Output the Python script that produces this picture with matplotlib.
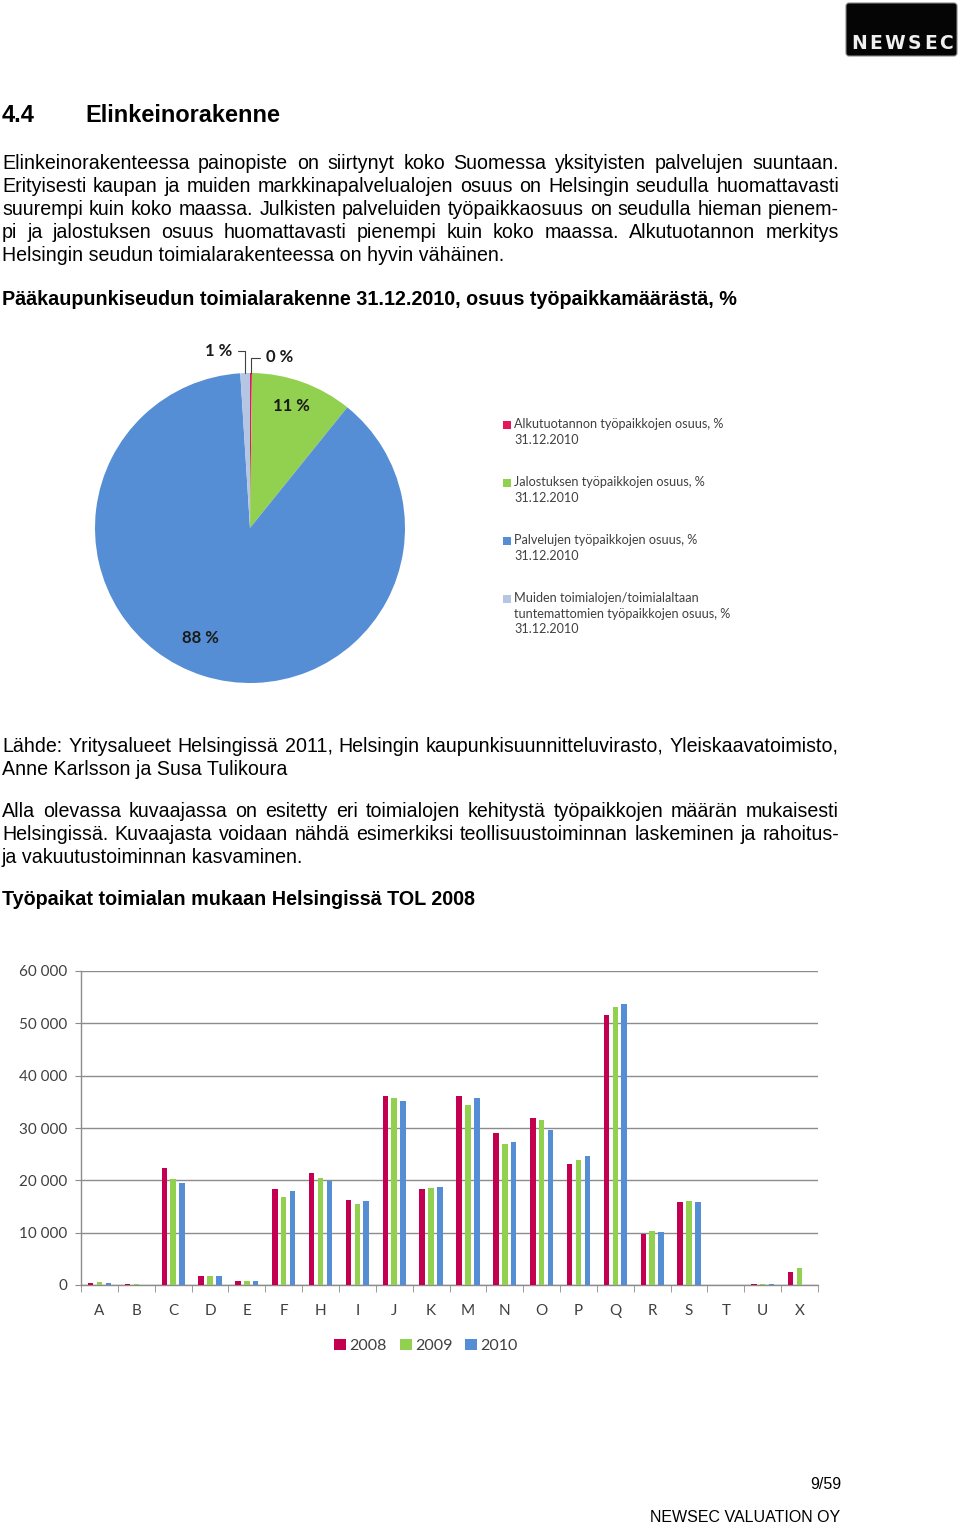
import matplotlib
matplotlib.use("Agg")
import matplotlib.pyplot as plt
from matplotlib.patches import Rectangle, FancyBboxPatch
import numpy as np

plt.rcParams['font.family'] = ['Lato', 'DejaVu Sans']

# ---------------- data ----------------
categories = ['A', 'B', 'C', 'D', 'E', 'F', 'H', 'I', 'J', 'K',
              'M', 'N', 'O', 'P', 'Q', 'R', 'S', 'T', 'U', 'X']
years = ['2008', '2009', '2010']
jobs_2008 = [400, 200, 22400, 1700, 750, 18300, 21400, 16200, 36100, 18300,
             36200, 29000, 31900, 23100, 51500, 9800, 15800, 50, 130, 2400]
jobs_2009 = [500, 100, 20200, 1700, 850, 16900, 20400, 15500, 35700, 18500,
             34300, 26900, 31600, 23800, 53100, 10300, 16000, 50, 250, 3200]
jobs_2010 = [400, 50, 19400, 1650, 750, 18000, 19900, 16000, 35200, 18800,
             35700, 27300, 29600, 24700, 53600, 10100, 15800, 50, 130, 0]
y_ticks = [0, 10000, 20000, 30000, 40000, 50000, 60000]

pie_legend = ["Alkutuotannon työpaikkojen osuus, %\n31.12.2010",
              "Jalostuksen työpaikkojen osuus, %\n31.12.2010",
              "Palvelujen työpaikkojen osuus, %\n31.12.2010",
              "Muiden toimialojen/toimialaltaan\ntuntemattomien työpaikkojen osuus, %\n31.12.2010"]
pie_shares = [0.2, 10.6, 88.2, 1.0]
pie_texts = ["0 %", "11 %", "88 %", "1 %"]

para1 = ["Elinkeinorakenteessa painopiste on siirtynyt koko Suomessa yksityisten palvelujen suuntaan.",
         "Erityisesti kaupan ja muiden markkinapalvelualojen osuus on Helsingin seudulla huomattavasti",
         "suurempi kuin koko maassa. Julkisten palveluiden työpaikkaosuus on seudulla hieman pienem-",
         "pi ja jalostuksen osuus huomattavasti pienempi kuin koko maassa. Alkutuotannon merkitys",
         "Helsingin seudun toimialarakenteessa on hyvin vähäinen."]
pie_title = "Pääkaupunkiseudun toimialarakenne 31.12.2010, osuus työpaikkamäärästä, %"
source = ["Lähde: Yritysalueet Helsingissä 2011, Helsingin kaupunkisuunnitteluvirasto, Yleiskaavatoimisto,",
          "Anne Karlsson ja Susa Tulikoura"]
para2 = ["Alla olevassa kuvaajassa on esitetty eri toimialojen kehitystä työpaikkojen määrän mukaisesti",
         "Helsingissä. Kuvaajasta voidaan nähdä esimerkiksi teollisuustoiminnan laskeminen ja rahoitus-",
         "ja vakuutustoiminnan kasvaminen."]
bar_title = "Työpaikat toimialan mukaan Helsingissä TOL 2008"
logo = "NEWSEC"

# ---------------- styling ----------------
pie_colors = ['#e2175e', '#92d050', '#558ed5', '#b4c6e4']
bar_colors = ['#c3004f', '#92d050', '#558ed5']
BODY = 'Liberation Sans'
TXT = '#404040'
GRID = '#8c8c8c'

W, H = 960, 1525
fig = plt.figure(figsize=(W / 100, H / 100), dpi=100)
page = fig.add_axes([0, 0, 1, 1])
page.set_xlim(0, W)
page.set_ylim(H, 0)
page.axis('off')
renderer = fig.canvas.get_renderer()


def measure(s, size, weight='normal', family=BODY):
    t = page.text(0, 0, s, fontsize=size, fontweight=weight, family=family)
    w = t.get_window_extent(renderer).width
    t.remove()
    return w


def fit(s, width, weight='normal', family=BODY):
    return 10 * width / measure(s, 10, weight, family)


def justify_line(s, y, size, x0=2, x1=839, weight='normal'):
    words = s.split(' ')
    ws = [measure(w, size, weight) for w in words]
    gap = (x1 - x0 - sum(ws)) / (len(words) - 1)
    x = x0
    for w, wd in zip(words, ws):
        page.text(x, y, w, fontsize=size, fontweight=weight, family=BODY,
                  va='baseline', ha='left', color='black')
        x += wd + gap


def plain(s, x, y, size, weight='normal', ha='left', family=BODY, color='black'):
    page.text(x, y, s, fontsize=size, fontweight=weight, family=family,
              va='baseline', ha=ha, color=color)


body = fit(para1[-1], 502)
head = fit("Elinkeinorakenne", 195, 'bold')
bold = fit(pie_title, 733, 'bold')

# logo
page.add_patch(FancyBboxPatch((846, 3), 111, 53, boxstyle='round,pad=0,rounding_size=3',
                              fc='#050505', ec='#888888', lw=0.8))
lx0, lx1 = 851, 953
LOGO_SIZE = 13.5
lw_ = [measure(c, LOGO_SIZE, 'bold', 'DejaVu Sans') for c in logo]
lgap = (lx1 - lx0 - sum(lw_)) / (len(logo) - 1)
xx = lx0
for c, cw in zip(logo, lw_):
    page.text(xx, 49, c, fontsize=LOGO_SIZE, fontweight='bold', family='DejaVu Sans',
              color='#f0f0f0', ha='left', va='baseline')
    xx += cw + lgap

# heading
plain("4.4", 2, 122, head, 'bold')
plain("Elinkeinorakenne", 85, 122, head, 'bold')

for i, line in enumerate(para1):
    y = 169 + 23 * i
    if i < len(para1) - 1:
        justify_line(line, y, body)
    else:
        plain(line, 2, y, body)

plain(pie_title, 2, 305, bold, 'bold')

for i, line in enumerate(source):
    y = 752 + 23 * i
    if i < len(source) - 1:
        justify_line(line, y, body)
    else:
        plain(line, 2, y, body)

for i, line in enumerate(para2):
    y = 817 + 23 * i
    if i < len(para2) - 1:
        justify_line(line, y, body)
    else:
        plain(line, 2, y, body)

plain(bar_title, 2, 905, bold, 'bold')

foot = fit("NEWSEC VALUATION OY", 190)
plain("9/59", 841, 1489, foot, ha='right')
plain("NEWSEC VALUATION OY", 840, 1522, foot, ha='right')

# ---------------- pie ----------------
cx, cy, r = 250, 528, 155
pax = fig.add_axes([(cx - r) / W, (H - cy - r) / H, 2 * r / W, 2 * r / H])
wedges, _ = pax.pie(pie_shares, colors=pie_colors, startangle=90, counterclock=False,
                    radius=1, wedgeprops=dict(linewidth=0))
pax.set_xlim(-1, 1)
pax.set_ylim(-1, 1)
pax.set_aspect('equal')

label_pos = [(0.19, 1.10), (0.265, 0.79), (-0.32, -0.71), (-0.20, 1.14)]
for w, txt, pos in zip(wedges, pie_texts, label_pos):
    mid = np.deg2rad((w.theta1 + w.theta2) / 2)
    if pos[1] > 1.0:
        pax.annotate(txt, xy=(np.cos(mid), np.sin(mid)), xytext=pos, ha='center', va='center',
                     fontsize=12, fontweight='bold', color='#1a1a1a',
                     arrowprops=dict(arrowstyle='-', color='#404040', lw=0.8,
                                     connectionstyle='angle,angleA=0,angleB=90,rad=0',
                                     shrinkA=2, shrinkB=0))
    else:
        pax.text(pos[0], pos[1], txt, ha='center', va='center', fontsize=12,
                 fontweight='bold', color='#1a1a1a')

# pie legend (square aligned with first line of each entry)
for i, (lab, col) in enumerate(zip(pie_legend, pie_colors)):
    y0 = 425 + 58 * i
    page.add_patch(Rectangle((503, y0 - 4), 7.5, 7.5, fc=col, ec='none'))
    page.text(514, y0 - 7, lab, fontsize=9.1, color=TXT, va='top', ha='left', linespacing=1.35)

# ---------------- bars ----------------
bx = fig.add_axes([81 / W, (H - 1285) / H, 737 / W, 314 / H])
x = np.arange(len(categories))
bw = 0.15
offs = [-0.24, 0.0, 0.24]
handles = []
for series, col, off, yr in zip([jobs_2008, jobs_2009, jobs_2010], bar_colors, offs, years):
    b = bx.bar(x + off, series, width=bw, color=col, label=yr, zorder=3)
    handles.append(b)
bx.set_xlim(-0.5, len(categories) - 0.5)
bx.set_ylim(0, 60000)
bx.set_yticks(y_ticks)
bx.set_yticklabels([f"{v:,}".replace(",", " ") for v in y_ticks])
bx.yaxis.grid(True, color=GRID, lw=1)
bx.set_axisbelow(True)
for s in ['top', 'right']:
    bx.spines[s].set_visible(False)
for s in ['left', 'bottom']:
    bx.spines[s].set_color(GRID)
    bx.spines[s].set_linewidth(1)
bx.tick_params(axis='y', length=4, color=GRID, labelcolor=TXT, labelsize=11, pad=6)
bx.set_xticks(x)
bx.set_xticklabels(categories)
bx.tick_params(axis='x', which='major', length=0, labelcolor=TXT, labelsize=11, pad=14)
bx.set_xticks(np.arange(len(categories) + 1) - 0.5, minor=True)
bx.tick_params(axis='x', which='minor', length=5, color=GRID)

fig.legend(handles=handles, labels=years, loc='center',
           bbox_to_anchor=(426 / W, 1 - 1346 / H), ncol=3, frameon=False, fontsize=11.5,
           handlelength=0.75, handleheight=0.75, handletextpad=0.2, columnspacing=0.8,
           labelcolor=TXT)

fig.savefig("out.png", dpi=100)
